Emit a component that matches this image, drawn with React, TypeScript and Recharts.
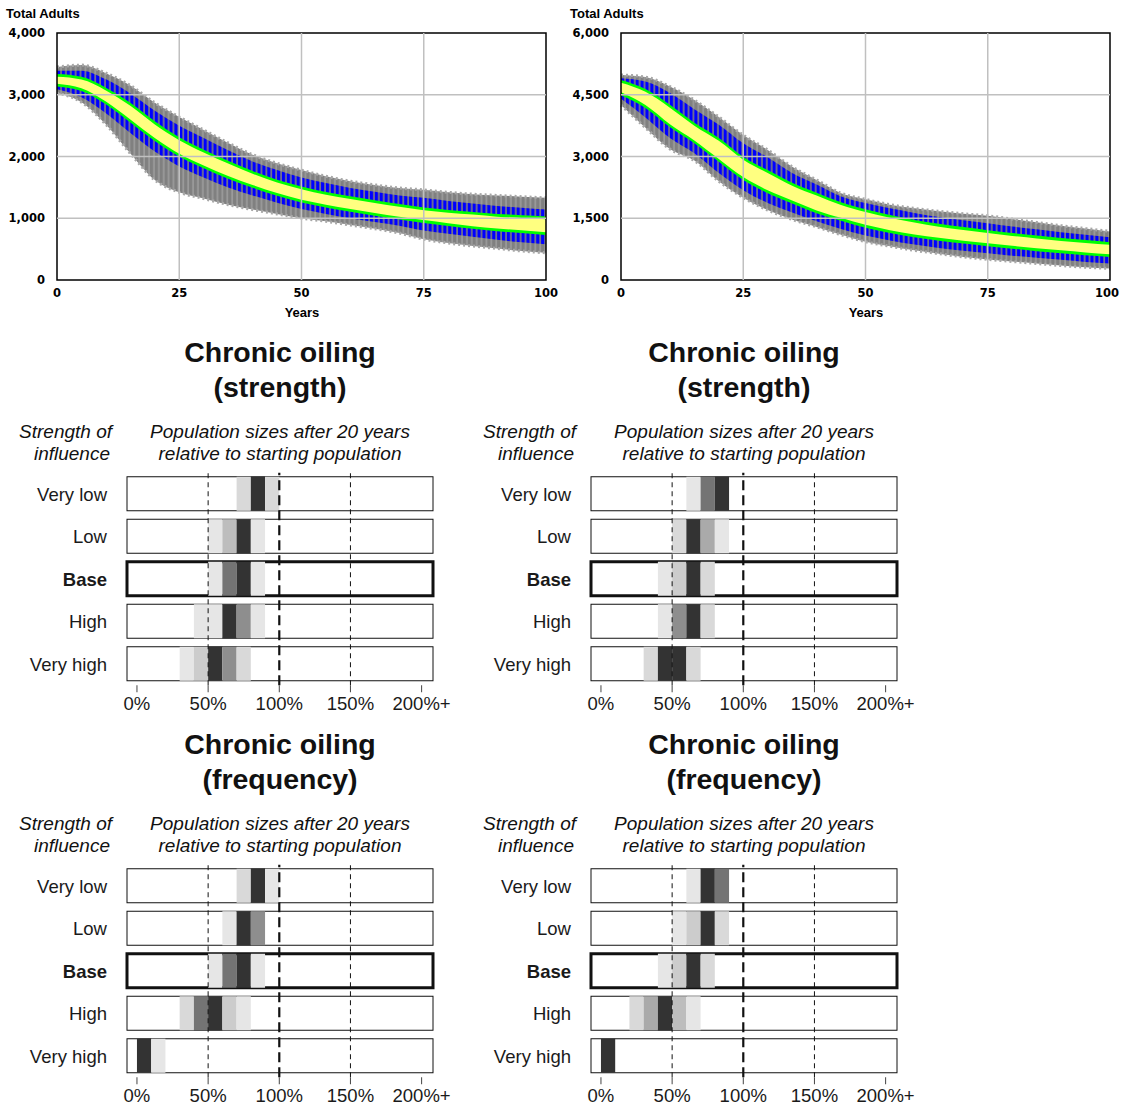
import { ComposedChart, Area, XAxis, YAxis, ReferenceLine, ReferenceArea, BarChart, Bar, Cell } from "recharts";

// ---- top fan charts: total adults over 100 years (quantile bands) ----
const years = [0, 5, 10, 15, 20, 25, 30, 35, 40, 45, 50, 55, 60, 65, 70, 75, 80, 85, 90, 95, 100];

const leftGrayHi = [3450, 3480, 3350, 3150, 2870, 2640, 2430, 2220, 2030, 1890, 1780, 1680, 1600, 1540, 1490, 1460, 1420, 1390, 1370, 1350, 1330];
const leftBlueHi = [3390, 3390, 3250, 3020, 2740, 2500, 2300, 2100, 1920, 1780, 1660, 1570, 1490, 1430, 1370, 1330, 1280, 1240, 1200, 1170, 1140];
const leftGreenHi = [3335, 3290, 3115, 2870, 2570, 2310, 2110, 1930, 1765, 1625, 1515, 1425, 1355, 1290, 1230, 1175, 1135, 1100, 1070, 1050, 1030];
const leftYellowHi = [3290, 3245, 3070, 2820, 2520, 2265, 2065, 1885, 1720, 1580, 1470, 1380, 1310, 1245, 1185, 1130, 1090, 1060, 1025, 1005, 985];
const leftYellowLo = [3180, 3105, 2890, 2600, 2300, 2045, 1855, 1685, 1540, 1410, 1300, 1220, 1150, 1085, 1025, 970, 920, 870, 835, 805, 775];
const leftGreenLo = [3135, 3060, 2845, 2550, 2250, 2000, 1810, 1640, 1495, 1365, 1255, 1175, 1105, 1040, 980, 925, 875, 830, 790, 760, 730];
const leftBlueLo = [3090, 2960, 2700, 2380, 2080, 1840, 1660, 1500, 1370, 1250, 1150, 1070, 1000, 940, 880, 800, 750, 700, 650, 610, 580];
const leftGrayLo = [3030, 2880, 2520, 2050, 1620, 1420, 1320, 1220, 1140, 1070, 1000, 950, 890, 830, 760, 660, 600, 550, 510, 470, 440];

const rightGrayHi = [4980, 4930, 4700, 4370, 3960, 3520, 3160, 2750, 2430, 2110, 1960, 1830, 1740, 1670, 1610, 1560, 1480, 1400, 1320, 1250, 1180];
const rightBlueHi = [4900, 4820, 4540, 4150, 3770, 3320, 2980, 2600, 2320, 2030, 1870, 1740, 1630, 1530, 1450, 1380, 1300, 1230, 1160, 1100, 1040];
const rightGreenHi = [4860, 4640, 4255, 3820, 3450, 2990, 2670, 2360, 2120, 1890, 1720, 1580, 1460, 1365, 1285, 1210, 1140, 1080, 1020, 970, 920];
const rightYellowHi = [4790, 4570, 4185, 3750, 3380, 2920, 2600, 2290, 2050, 1820, 1650, 1510, 1395, 1295, 1215, 1140, 1070, 1010, 950, 900, 855];
const rightYellowLo = [4560, 4250, 3785, 3390, 2940, 2500, 2180, 1930, 1690, 1510, 1340, 1210, 1105, 1025, 955, 890, 830, 770, 720, 670, 625];
const rightGreenLo = [4490, 4180, 3715, 3320, 2870, 2430, 2110, 1860, 1620, 1440, 1270, 1140, 1040, 955, 885, 820, 760, 700, 650, 600, 560];
const rightBlueLo = [4400, 3950, 3450, 3080, 2600, 2180, 1870, 1640, 1430, 1240, 1080, 960, 860, 780, 710, 650, 590, 540, 490, 440, 400];
const rightGrayLo = [4250, 3700, 3180, 2900, 2400, 2000, 1700, 1470, 1290, 1100, 930, 820, 720, 640, 560, 500, 450, 400, 350, 310, 280];

const yearTicks = [0, 25, 50, 75, 100];
const leftAdultTicks = [0, 1000, 2000, 3000, 4000];
const rightAdultTicks = [0, 1500, 3000, 4500, 6000];

// ---- bottom panels: outcome after 20 years, 10% bins, density level per bin ----
const influenceLevels = ["Very low", "Low", "Base", "High", "Very high"];
const binStarts = [0, 10, 20, 30, 40, 50, 60, 70, 80, 90];
const pctTicks = [0, 50, 100, 150, 200];

// each row: first bin (%) and the density level of consecutive bins (1 = faint … 8 = most runs)
const strengthLeft = [
  { from: 70, levels: [2, 8, 2] },
  { from: 50, levels: [1, 4, 8, 1] },
  { from: 50, levels: [1, 7, 8, 1] },
  { from: 40, levels: [1, 1, 8, 6, 1] },
  { from: 30, levels: [1, 3, 8, 6, 2] },
];
const strengthRight = [
  { from: 60, levels: [1, 7, 8] },
  { from: 50, levels: [2, 8, 5, 1] },
  { from: 40, levels: [1, 3, 8, 2] },
  { from: 40, levels: [1, 6, 8, 2] },
  { from: 30, levels: [2, 8, 8, 2] },
];
const frequencyLeft = [
  { from: 70, levels: [2, 8, 1] },
  { from: 60, levels: [1, 8, 6] },
  { from: 50, levels: [1, 7, 8, 1] },
  { from: 30, levels: [2, 7, 8, 3, 1] },
  { from: 0, levels: [8, 1] },
];
const frequencyRight = [
  { from: 60, levels: [1, 8, 7] },
  { from: 50, levels: [1, 3, 8, 2] },
  { from: 40, levels: [1, 3, 8, 2] },
  { from: 20, levels: [2, 5, 8, 4, 1] },
  { from: 0, levels: [8] },
];

const SHADES = ["none", "#e6e6e6", "#d9d9d9", "#cccccc", "#bdbdbd", "#aaaaaa", "#8e8e8e", "#747474", "#333333"];
const BAND = { gray: "#808080", blue: "#0000ff", green: "#00ff00", yellow: "#ffff80" };
const AXIS_FONT = "'DejaVu Sans', Verdana, sans-serif";
const LABEL_FONT = "'Liberation Sans', Arial, sans-serif";
const PANEL_FONT = "'Liberation Sans', Arial, sans-serif";

function fanData(lo: number[][], hi: number[][]) {
  return years.map((y, i) => ({
    year: y,
    gray: [lo[0][i], hi[0][i]],
    blue: [lo[1][i], hi[1][i]],
    green: [lo[2][i], hi[2][i]],
    yellow: [lo[3][i], hi[3][i]],
  }));
}

const leftFan = fanData(
  [leftGrayLo, leftBlueLo, leftGreenLo, leftYellowLo],
  [leftGrayHi, leftBlueHi, leftGreenHi, leftYellowHi]
);
const rightFan = fanData(
  [rightGrayLo, rightBlueLo, rightGreenLo, rightYellowLo],
  [rightGrayHi, rightBlueHi, rightGreenHi, rightYellowHi]
);

function YearTick(props: any) {
  const { x, y, payload, pull } = props;
  // keep the last label inside the window on the right-hand chart
  const shift = pull && payload.value === 100 ? -3 : 0;
  return (
    <text x={x + shift} y={y} dy="0.71em" textAnchor="middle" fontSize={11.5} fontWeight={700} fill="#000" fontFamily={AXIS_FONT}>
      {payload.value}
    </text>
  );
}

function FanChart({ id, data, ticks, width, left, rightMargin }: { id: string; data: any[]; ticks: number[]; width: number; left: number; rightMargin: number }) {
  const max = ticks[ticks.length - 1];
  const tickStyle = { fontSize: 11.5, fontWeight: 700, fill: "#000", fontFamily: AXIS_FONT };
  return (
    <div style={{ position: "absolute", left, top: 0 }}>
      <ComposedChart width={width} height={300} data={data} margin={{ top: 33, right: rightMargin, bottom: 0, left: 0 }}>
        <defs>
          {/* one stroke per simulated time step gives the banded texture */}
          <pattern id={`grayTex-${id}`} patternUnits="userSpaceOnUse" x={57} y={0} width={4.89} height={8}>
            <rect x={0} y={0} width={4.89} height={8} fill={BAND.gray} />
            <rect x={3.4} y={0} width={1.2} height={8} fill="#a6a6a6" />
          </pattern>
          <pattern id={`blueTex-${id}`} patternUnits="userSpaceOnUse" x={57} y={0} width={4.89} height={8}>
            <rect x={0} y={0} width={4.89} height={8} fill={BAND.blue} />
            <rect x={3.2} y={0} width={1.6} height={8} fill={BAND.gray} />
          </pattern>
        </defs>
        <XAxis type="number" dataKey="year" domain={[0, 100]} ticks={yearTicks} tick={<YearTick pull={id === "b"} />} tickLine={false} axisLine={false} tickSize={0} tickMargin={9} height={20} interval={0} />
        <YAxis type="number" domain={[0, max]} ticks={ticks} tick={tickStyle} tickLine={false} axisLine={false} tickSize={0} tickMargin={12} width={57} interval={0}
          tickFormatter={(v: number) => v.toLocaleString("en-US")} />
        <Area type="monotone" dataKey="gray" fill={`url(#grayTex-${id})`} fillOpacity={1} stroke="#a8a8a8" strokeWidth={3} strokeDasharray="2 3" isAnimationActive={false} />
        <Area type="monotone" dataKey="blue" fill={`url(#blueTex-${id})`} fillOpacity={1} stroke="none" isAnimationActive={false} />
        <Area type="monotone" dataKey="green" fill={BAND.green} fillOpacity={1} stroke="none" isAnimationActive={false} />
        <Area type="monotone" dataKey="yellow" fill={BAND.yellow} fillOpacity={1} stroke="none" isAnimationActive={false} />
        {yearTicks.slice(1, -1).map((t) => <ReferenceLine key={`x${t}`} x={t} stroke="#c0c0c0" strokeWidth={1.5} />)}
        {ticks.slice(1, -1).map((t) => <ReferenceLine key={`y${t}`} y={t} stroke="#c0c0c0" strokeWidth={1.5} />)}
        <ReferenceArea x1={0} x2={100} y1={0} y2={max} fill="none" stroke="#000" strokeWidth={1.5} />
      </ComposedChart>
    </div>
  );
}

function rowsFor() {
  return influenceLevels.map((label) => {
    const row: any = { label };
    binStarts.forEach((b) => (row[`b${b}`] = 10));
    return row;
  });
}

function shadeOf(spec: { from: number; levels: number[] }, bin: number) {
  const idx = (bin - spec.from) / 10;
  const lvl = idx >= 0 && idx < spec.levels.length ? spec.levels[idx] : 0;
  return SHADES[lvl];
}

function RowTick(props: any) {
  const { x, y, payload } = props;
  const bold = payload.value === "Base";
  return (
    <text x={x} y={y} textAnchor="end" dominantBaseline="central" fontSize={18.5} fontWeight={bold ? 700 : 400} fill="#1a1a1a" fontFamily={PANEL_FONT}>
      {payload.value}
    </text>
  );
}

function InfluencePanel({ spec, left, top }: { spec: { from: number; levels: number[] }[]; left: number; top: number }) {
  const data = rowsFor();
  const frame = (p: any) => (
    <rect key={`frame-${p.index}`} x={p.x} y={p.y} width={p.width} height={p.height} fill="#fff"
      stroke="#111" strokeWidth={influenceLevels[p.index] === "Base" ? 3 : 1} />
  );
  return (
    <div style={{ position: "absolute", left, top }}>
      <BarChart width={464} height={260} data={data} layout="vertical" barSize={34} margin={{ top: 12.75, right: 31, bottom: 0, left: 0 }}>
        <XAxis type="number" domain={[-7, 208]} ticks={pctTicks} interval={0} height={34.75} axisLine={false}
          tickLine={{ stroke: "#444" }} tickSize={7} tickMargin={5}
          tick={{ fontSize: 18.5, fill: "#1a1a1a", fontFamily: PANEL_FONT }}
          tickFormatter={(v: number) => (v === 200 ? "200%+" : `${v}%`)} />
        <YAxis type="category" dataKey="label" width={127} axisLine={false} tickLine={false} tickSize={0} tickMargin={20} tick={<RowTick />} interval={0} />
        {binStarts.map((b, k) => (
          <Bar key={b} dataKey={`b${b}`} stackId="bins" isAnimationActive={false} background={k === 0 ? frame : undefined}>
            {spec.map((s, i) => <Cell key={i} fill={shadeOf(s, b)} />)}
          </Bar>
        ))}
        <ReferenceLine x={50} stroke="#111" strokeDasharray="5 4" />
        <ReferenceLine x={150} stroke="#111" strokeDasharray="5 4" />
        <ReferenceLine x={100} stroke="#111" strokeWidth={2.2} strokeDasharray="10 5" />
      </BarChart>
    </div>
  );
}

function PanelTitles({ dx, dy, kind }: { dx: number; dy: number; kind: string }) {
  const cx = 280 + dx;
  return (
    <g fontFamily={PANEL_FONT} fill="#111">
      <text x={cx} y={362 + dy} textAnchor="middle" fontSize={28.5} fontWeight={700}>Chronic oiling</text>
      <text x={cx} y={397 + dy} textAnchor="middle" fontSize={28.5} fontWeight={700}>({kind})</text>
      <text x={112 + dx} y={438 + dy} textAnchor="end" fontSize={19} fontStyle="italic">Strength of</text>
      <text x={110 + dx} y={460 + dy} textAnchor="end" fontSize={19} fontStyle="italic">influence</text>
      <text x={cx} y={438 + dy} textAnchor="middle" fontSize={19} fontStyle="italic">Population sizes after 20 years</text>
      <text x={cx} y={460 + dy} textAnchor="middle" fontSize={19} fontStyle="italic">relative to starting population</text>
    </g>
  );
}

export default function App() {
  return (
    <div style={{ position: "absolute", left: 0, top: 0, width: 1121, height: 1107, background: "#fff", overflow: "hidden" }}>
      <FanChart id="a" data={leftFan} ticks={leftAdultTicks} width={560} left={0} rightMargin={14} />
      <FanChart id="b" data={rightFan} ticks={rightAdultTicks} width={557} left={564} rightMargin={11} />

      <InfluencePanel spec={strengthLeft} left={0} top={460} />
      <InfluencePanel spec={strengthRight} left={464} top={460} />
      <InfluencePanel spec={frequencyLeft} left={0} top={852} />
      <InfluencePanel spec={frequencyRight} left={464} top={852} />

      <svg width={1121} height={1107} style={{ position: "absolute", left: 0, top: 0, pointerEvents: "none" }}>
        <g fontFamily={LABEL_FONT} fontSize={13} fontWeight={700} fill="#000">
          <text x={6} y={18}>Total Adults</text>
          <text x={570} y={18}>Total Adults</text>
          <text x={302} y={317} textAnchor="middle">Years</text>
          <text x={866} y={317} textAnchor="middle">Years</text>
        </g>
        <PanelTitles dx={0} dy={0} kind="strength" />
        <PanelTitles dx={464} dy={0} kind="strength" />
        <PanelTitles dx={0} dy={392} kind="frequency" />
        <PanelTitles dx={464} dy={392} kind="frequency" />
      </svg>
    </div>
  );
}
